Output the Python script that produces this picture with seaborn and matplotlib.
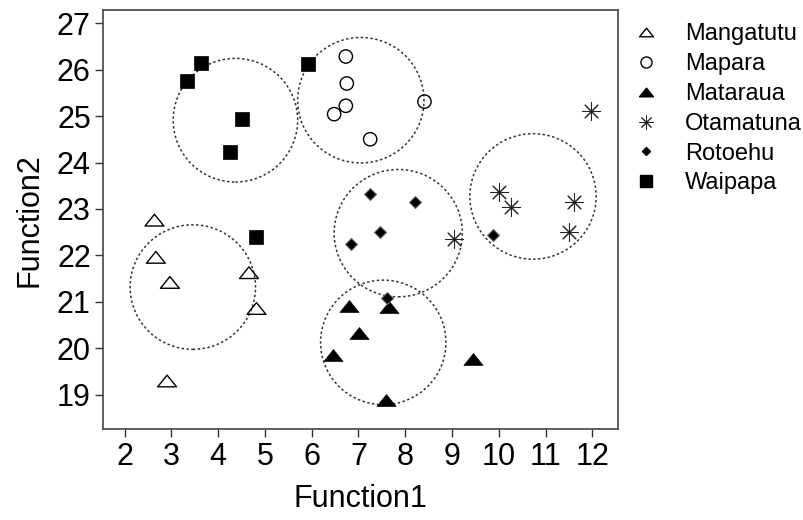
import numpy as np
import pandas as pd
import matplotlib
matplotlib.use("Agg")
import matplotlib.pyplot as plt
import seaborn as sns
from matplotlib.patches import Circle
from matplotlib.lines import Line2D
from matplotlib.path import Path

sns.set_theme(style="ticks")
plt.rcParams["font.family"] = ["Liberation Sans", "DejaVu Sans"]
plt.rcParams["text.color"] = "black"
plt.rcParams["axes.labelcolor"] = "black"
plt.rcParams["xtick.color"] = "black"
plt.rcParams["ytick.color"] = "black"

# discriminant function scores, one pair of lists per site
sites = ["Mangatutu", "Mapara", "Mataraua", "Otamatuna", "Rotoehu", "Waipapa"]

mangatutu_f1 = [2.64, 2.67, 2.97, 4.66, 4.82, 2.91]
mangatutu_f2 = [22.76, 21.96, 21.42, 21.63, 20.86, 19.30]

mapara_f1 = [6.73, 6.75, 6.73, 6.48, 7.25, 8.41]
mapara_f2 = [26.28, 25.70, 25.22, 25.04, 24.50, 25.31]

mataraua_f1 = [6.80, 7.66, 7.02, 6.45, 9.45, 7.58]
mataraua_f2 = [20.91, 20.89, 20.33, 19.86, 19.77, 18.88]

otamatuna_f1 = [11.96, 10.00, 10.27, 11.60, 11.50, 9.05]
otamatuna_f2 = [25.11, 23.37, 23.04, 23.16, 22.50, 22.36]

rotoehu_f1 = [7.25, 8.20, 7.46, 6.85, 9.87, 7.60]
rotoehu_f2 = [23.32, 23.16, 22.50, 22.24, 22.44, 21.08]

waipapa_f1 = [3.63, 3.34, 4.51, 4.25, 5.92, 4.81]
waipapa_f2 = [26.15, 25.76, 24.93, 24.23, 26.12, 22.40]

# group centroid rings
ring_x = [3.46, 7.05, 7.53, 10.73, 7.85, 4.37]
ring_y = [21.32, 25.34, 20.13, 23.27, 22.48, 24.91]
ring_r = [1.34, 1.35, 1.34, 1.35, 1.37, 1.33]

x_ticks = list(range(2, 13))
y_ticks = list(range(19, 28))

df = pd.concat([
    pd.DataFrame({"Function1": mangatutu_f1, "Function2": mangatutu_f2, "Site": "Mangatutu"}),
    pd.DataFrame({"Function1": mapara_f1, "Function2": mapara_f2, "Site": "Mapara"}),
    pd.DataFrame({"Function1": mataraua_f1, "Function2": mataraua_f2, "Site": "Mataraua"}),
    pd.DataFrame({"Function1": otamatuna_f1, "Function2": otamatuna_f2, "Site": "Otamatuna"}),
    pd.DataFrame({"Function1": rotoehu_f1, "Function2": rotoehu_f2, "Site": "Rotoehu"}),
    pd.DataFrame({"Function1": waipapa_f1, "Function2": waipapa_f2, "Site": "Waipapa"}),
], ignore_index=True)

# flattened triangle like the R symbols
tri = Path([(-1, -0.62), (1, -0.62), (0, 0.62), (-1, -0.62)], closed=True)
star = (8, 2, 0)

styles = {
    "Mangatutu": dict(marker=tri, s=185, facecolor="none", edgecolor="black", linewidth=1.0),
    "Mapara": dict(marker="o", s=92, facecolor="none", edgecolor="black", linewidth=1.0),
    "Mataraua": dict(marker=tri, s=190, facecolor="black", edgecolor="black", linewidth=0.5),
    "Otamatuna": dict(marker=star, s=170, linewidth=0.75),
    "Rotoehu": dict(marker="D", s=37, facecolor="black", edgecolor="#666666", linewidth=0.8),
    "Waipapa": dict(marker="s", s=92, facecolor="black", edgecolor="black", linewidth=0.5),
}
colors = {"Otamatuna": "#222222"}

fig = plt.figure(figsize=(8.04, 5.2), dpi=100)
ax = fig.add_axes([0.1285, 0.1744, 0.6398, 0.8063])

for cx, cy, r in zip(ring_x, ring_y, ring_r):
    ax.add_patch(Circle((cx, cy), r, fill=False, edgecolor="#333333",
                        linestyle=(0, (1.6, 1.6)), linewidth=1.1, zorder=1))

for site in sites:
    sub = df[df["Site"] == site]
    sns.scatterplot(data=sub, x="Function1", y="Function2", color=colors.get(site, "black"),
                    ax=ax, legend=False, zorder=3, **styles[site])

ax.set_xlim(1.547, 12.54)
ax.set_ylim(18.26, 27.28)
ax.set_xticks(x_ticks)
ax.set_yticks(y_ticks)
ax.set_xlabel("Function1", fontsize=22, labelpad=9)
ax.set_ylabel("Function2", fontsize=22, labelpad=9)
ax.tick_params(axis="both", labelsize=22, length=6, width=1.0, color="#333333", pad=3)
for sp in ax.spines.values():
    sp.set_visible(True)
    sp.set_color("#444444")
    sp.set_linewidth(1.2)

handles = [
    Line2D([], [], linestyle="none", marker=tri, markersize=10, markerfacecolor="none",
           markeredgecolor="black", markeredgewidth=1.0),
    Line2D([], [], linestyle="none", marker="o", markersize=8, markerfacecolor="none",
           markeredgecolor="black", markeredgewidth=1.0),
    Line2D([], [], linestyle="none", marker=tri, markersize=10, markerfacecolor="black",
           markeredgecolor="black"),
    Line2D([], [], linestyle="none", marker=star, markersize=10, color="#222222",
           markeredgewidth=0.7),
    Line2D([], [], linestyle="none", marker="D", markersize=4.4, markerfacecolor="black",
           markeredgecolor="black"),
    Line2D([], [], linestyle="none", marker="s", markersize=8.9, markerfacecolor="black",
           markeredgecolor="black"),
]
fig.legend(handles, sites, loc="upper left", bbox_to_anchor=(0.7884, 0.955),
           frameon=False, fontsize=17, handlelength=1.0, handletextpad=1.15,
           labelspacing=0.33, borderpad=0, borderaxespad=0)

fig.savefig("out.png", dpi=100)
